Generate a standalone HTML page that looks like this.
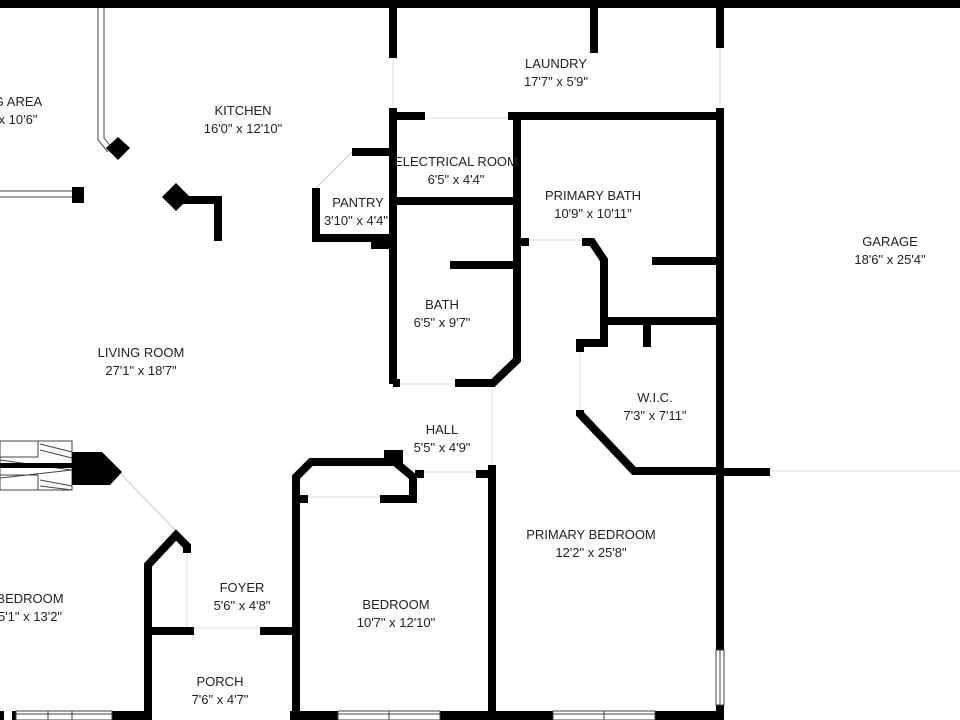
<!DOCTYPE html>
<html><head><meta charset="utf-8"><style>
html,body{margin:0;padding:0;background:#fff;}
svg{display:block;}
text{font-family:"Liberation Sans",sans-serif;font-size:13px;fill:#222;text-anchor:middle;}
</style></head><body>
<svg width="960" height="720" viewBox="0 0 960 720" xmlns="http://www.w3.org/2000/svg">
<rect width="960" height="720" fill="#fff"/>
<g fill="none" stroke="#ddd" stroke-width="1">
<line x1="393" y1="58" x2="393" y2="108"/>
<line x1="720" y1="48" x2="720" y2="108"/>
<line x1="425" y1="118" x2="508" y2="118"/>
<line x1="529" y1="240" x2="582" y2="240"/>
<line x1="580" y1="352" x2="580" y2="410"/>
<line x1="400" y1="384" x2="455" y2="384"/>
<line x1="492" y1="384" x2="492" y2="465"/>
<line x1="424" y1="472" x2="476" y2="472"/>
<line x1="308" y1="497" x2="380" y2="497"/>
<line x1="187" y1="553" x2="187" y2="628"/>
<line x1="194" y1="628" x2="260" y2="628"/>
</g>
<g fill="none" stroke="#000" stroke-width="8" stroke-linecap="butt" stroke-linejoin="miter">
<line x1="0" y1="4" x2="960" y2="4"/>
<line x1="393" y1="0" x2="393" y2="58"/>
<line x1="393" y1="108" x2="393" y2="384"/>
<line x1="389" y1="116" x2="425" y2="116"/>
<line x1="508" y1="116" x2="724" y2="116"/>
<line x1="517" y1="116" x2="517" y2="245"/>
<line x1="393" y1="201" x2="517" y2="201"/>
<line x1="594" y1="0" x2="594" y2="53"/>
<line x1="720" y1="0" x2="720" y2="48"/>
<line x1="720" y1="108" x2="720" y2="650"/>
<line x1="720" y1="705" x2="720" y2="720"/>
<line x1="720" y1="472" x2="770" y2="472"/>
<line x1="652" y1="261" x2="720" y2="261"/>
<line x1="605" y1="321" x2="720" y2="321"/>
<line x1="647" y1="321" x2="647" y2="347"/>
<line x1="517" y1="242" x2="529" y2="242"/>
<polyline points="582,242 592,242 604,260 604,343 580,343 580,352"/>
<polyline points="580,410 580,414 634,471 720,471"/>
<line x1="450" y1="265" x2="517" y2="265"/>
<polyline points="517,245 517,360 493,383 455,383"/>
<line x1="393" y1="383" x2="400" y2="383"/>
<line x1="415" y1="474" x2="424" y2="474"/>
<line x1="476" y1="474" x2="496" y2="474"/>
<line x1="492" y1="465" x2="492" y2="720"/>
<polyline points="296,720 296,477 311,462 395,462 413,477 413,503"/>
<line x1="415" y1="499" x2="380" y2="499"/>
<line x1="293" y1="499" x2="308" y2="499"/>
<polyline points="148,720 148,565 176,535 187,546 187,553"/>
<line x1="148" y1="631" x2="194" y2="631"/>
<line x1="260" y1="631" x2="296" y2="631"/>
<polyline points="352,152 393,152"/>
<polyline points="316,188 316,238 393,238"/>
<polyline points="176,200 218,200 218,241"/>
</g>
<rect x="384" y="450" width="19" height="14" fill="#000"/>
<rect x="371" y="234" width="22" height="15" fill="#000"/>
<g fill="#000">
<rect x="0" y="711" width="4" height="9"/>
<rect x="12" y="711" width="4" height="9"/>
<rect x="112" y="711" width="40" height="9"/>
<rect x="290" y="711" width="48" height="9"/>
<rect x="440" y="711" width="113" height="9"/>
<rect x="655" y="711" width="69" height="9"/>
</g>
<g fill="none" stroke="#444" stroke-width="1">
<rect x="16" y="711" width="96" height="9"/><line x1="48" y1="711" x2="48" y2="720"/><line x1="72" y1="711" x2="72" y2="720"/><line x1="16" y1="714" x2="112" y2="714"/>
<rect x="338" y="711" width="102" height="9"/><line x1="389" y1="711" x2="389" y2="720"/><line x1="338" y1="714" x2="440" y2="714"/>
<rect x="553" y="711" width="102" height="9"/><line x1="604" y1="711" x2="604" y2="720"/><line x1="553" y1="714" x2="655" y2="714"/>
<rect x="716" y="650" width="8" height="55"/><line x1="720" y1="650" x2="720" y2="705"/>
<line x1="316" y1="188" x2="352" y2="152" stroke="#ccc"/>
<line x1="120" y1="473" x2="175" y2="530" stroke="#ccc"/>
<line x1="770" y1="471" x2="960" y2="471" stroke="#ddd"/>
<polyline points="98,8 98,140 108,152"/><polyline points="104,8 104,138 112,148"/>
<line x1="0" y1="191" x2="72" y2="191"/><line x1="0" y1="197" x2="72" y2="197"/>
<rect x="0" y="441" width="72" height="49"/>
<line x1="0" y1="457" x2="38" y2="457"/><line x1="0" y1="475" x2="38" y2="475"/>
<line x1="38" y1="441" x2="38" y2="457"/><line x1="38" y1="475" x2="38" y2="490"/>
<line x1="40" y1="444" x2="72" y2="452"/><line x1="40" y1="450" x2="72" y2="458"/><line x1="0" y1="460" x2="72" y2="470"/>
<line x1="0" y1="478" x2="72" y2="470"/><line x1="40" y1="480" x2="72" y2="486"/><line x1="40" y1="486" x2="72" y2="490"/>
</g>
<rect x="0" y="463" width="72" height="5" fill="#000"/>
<polygon points="72,452 102,452 122,472 110,485 72,485" fill="#000"/>
<rect x="72" y="187" width="12" height="16" fill="#000"/>
<polygon points="118,137 130,148 118,160 106,148" fill="#000"/>
<polygon points="176,183 190,197 176,211 162,197" fill="#000"/>
<text x="18" y="106">G AREA</text><text x="18" y="124">x 10'6"</text>
<text x="243" y="115">KITCHEN</text><text x="243" y="133">16'0" x 12'10"</text>
<text x="556" y="68">LAUNDRY</text><text x="556" y="86">17'7" x 5'9"</text>
<text x="456" y="166">ELECTRICAL ROOM</text><text x="456" y="184">6'5" x 4'4"</text>
<text x="358" y="207">PANTRY</text><text x="356" y="225">3'10" x 4'4"</text>
<text x="593" y="200">PRIMARY BATH</text><text x="593" y="218">10'9" x 10'11"</text>
<text x="890" y="246">GARAGE</text><text x="890" y="264">18'6" x 25'4"</text>
<text x="442" y="309">BATH</text><text x="442" y="327">6'5" x 9'7"</text>
<text x="141" y="357">LIVING ROOM</text><text x="141" y="375">27'1" x 18'7"</text>
<text x="655" y="402">W.I.C.</text><text x="655" y="420">7'3" x 7'11"</text>
<text x="442" y="434">HALL</text><text x="442" y="452">5'5" x 4'9"</text>
<text x="591" y="539">PRIMARY BEDROOM</text><text x="591" y="557">12'2" x 25'8"</text>
<text x="242" y="592">FOYER</text><text x="242" y="610">5'6" x 4'8"</text>
<text x="30" y="603">BEDROOM</text><text x="30" y="621">5'1" x 13'2"</text>
<text x="396" y="609">BEDROOM</text><text x="396" y="627">10'7" x 12'10"</text>
<text x="220" y="686">PORCH</text><text x="220" y="704">7'6" x 4'7"</text>
</svg>
</body></html>
